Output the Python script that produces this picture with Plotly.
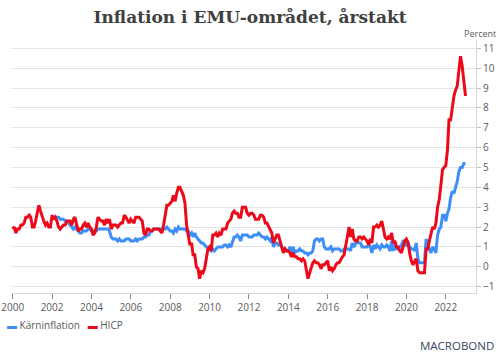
import pandas as pd
import plotly.graph_objects as go

# Euro area HICP, annual rate (%), monthly Jan 2000 - Jan 2023
hicp = [
    1.9, 2.0, 1.7, 1.9, 1.9, 2.1, 2.1, 2.2, 2.5, 2.5, 2.6, 2.5,   # 2000
    2.0, 2.0, 2.3, 2.8, 3.1, 2.8, 2.5, 2.3, 2.1, 2.2, 2.0, 2.0,   # 2001
    2.6, 2.4, 2.5, 2.3, 2.0, 1.9, 2.0, 2.1, 2.1, 2.3, 2.3, 2.3,   # 2002
    2.1, 2.4, 2.5, 2.1, 1.8, 1.9, 1.9, 2.1, 2.2, 2.0, 2.2, 2.0,   # 2003
    1.9, 1.6, 1.7, 2.0, 2.5, 2.4, 2.3, 2.3, 2.1, 2.4, 2.2, 2.4,   # 2004
    1.9, 2.1, 2.1, 2.1, 2.0, 2.1, 2.2, 2.2, 2.6, 2.5, 2.3, 2.2,   # 2005
    2.4, 2.3, 2.2, 2.5, 2.5, 2.5, 2.4, 2.3, 1.7, 1.6, 1.9, 1.9,   # 2006
    1.8, 1.8, 1.9, 1.9, 1.9, 1.9, 1.8, 1.7, 2.1, 2.6, 3.1, 3.1,   # 2007
    3.2, 3.3, 3.6, 3.3, 3.7, 4.0, 4.0, 3.8, 3.6, 3.2, 2.1, 1.6,   # 2008
    1.1, 1.2, 0.6, 0.6, 0.0, -0.1, -0.6, -0.2, -0.3, -0.1, 0.5, 0.9,  # 2009
    1.0, 0.8, 1.6, 1.6, 1.7, 1.5, 1.7, 1.6, 1.9, 1.9, 1.9, 2.2,   # 2010
    2.3, 2.4, 2.7, 2.8, 2.7, 2.7, 2.5, 2.5, 3.0, 3.0, 3.0, 2.7,   # 2011
    2.6, 2.7, 2.7, 2.6, 2.4, 2.4, 2.4, 2.6, 2.6, 2.5, 2.2, 2.2,   # 2012
    2.0, 1.8, 1.7, 1.2, 1.4, 1.6, 1.6, 1.3, 1.1, 0.7, 0.9, 0.8,   # 2013
    0.8, 0.7, 0.5, 0.7, 0.5, 0.5, 0.4, 0.4, 0.3, 0.4, 0.3, -0.2,  # 2014
    -0.6, -0.3, -0.1, 0.2, 0.3, 0.2, 0.2, 0.1, -0.1, 0.1, 0.1, 0.2,  # 2015
    0.3, -0.2, 0.0, -0.2, -0.1, 0.1, 0.2, 0.2, 0.4, 0.5, 0.6, 1.1,  # 2016
    1.7, 2.0, 1.5, 1.9, 1.4, 1.3, 1.3, 1.5, 1.5, 1.4, 1.5, 1.4,   # 2017
    1.3, 1.1, 1.4, 1.2, 2.0, 2.0, 2.1, 2.0, 2.1, 2.3, 1.9, 1.5,   # 2018
    1.4, 1.5, 1.4, 1.7, 1.2, 1.3, 1.0, 1.0, 0.8, 0.7, 1.0, 1.3,   # 2019
    1.4, 1.2, 0.7, 0.3, 0.1, 0.3, 0.4, -0.2, -0.3, -0.3, -0.3, -0.3,  # 2020
    0.9, 0.9, 1.3, 1.6, 2.0, 1.9, 2.2, 3.0, 3.4, 4.1, 4.9, 5.0,   # 2021
    5.1, 5.9, 7.4, 7.4, 8.1, 8.6, 8.9, 9.1, 9.9, 10.6, 10.1, 9.2,  # 2022
    8.6,                                                          # 2023
]

# Core inflation (Kärninflation), annual rate (%), monthly Jan 2002 - Jan 2023
core = [
    2.5, 2.5, 2.5, 2.5, 2.5, 2.4, 2.4, 2.4, 2.3, 2.3, 2.2, 2.1,   # 2002
    2.0, 1.9, 2.0, 1.9, 1.8, 1.7, 1.7, 1.8, 1.8, 1.8, 1.9, 1.9,   # 2003
    1.8, 1.8, 1.8, 1.8, 1.9, 1.9, 1.9, 1.9, 1.9, 1.9, 1.9, 1.8,   # 2004
    1.5, 1.4, 1.4, 1.4, 1.3, 1.4, 1.3, 1.3, 1.3, 1.4, 1.4, 1.4,   # 2005
    1.3, 1.3, 1.3, 1.4, 1.3, 1.4, 1.4, 1.4, 1.5, 1.5, 1.6, 1.6,   # 2006
    1.8, 1.8, 1.9, 1.9, 1.9, 1.9, 1.9, 1.9, 1.9, 1.9, 2.0, 1.9,   # 2007
    1.8, 1.8, 1.7, 1.9, 1.8, 2.0, 1.9, 1.9, 1.9, 1.9, 1.8, 1.8,   # 2008
    1.6, 1.7, 1.5, 1.7, 1.5, 1.4, 1.3, 1.2, 1.2, 1.1, 1.0, 1.0,   # 2009
    0.9, 0.8, 0.9, 0.8, 0.9, 1.0, 1.0, 1.0, 1.0, 1.1, 1.1, 1.0,   # 2010
    1.1, 1.0, 1.3, 1.5, 1.5, 1.6, 1.5, 1.3, 1.6, 1.6, 1.6, 1.6,   # 2011
    1.5, 1.5, 1.5, 1.6, 1.6, 1.6, 1.7, 1.6, 1.5, 1.5, 1.4, 1.5,   # 2012
    1.4, 1.3, 1.5, 1.0, 1.2, 1.2, 1.1, 1.1, 1.0, 0.8, 0.9, 0.8,   # 2013
    0.8, 1.0, 0.7, 1.0, 0.7, 0.8, 0.8, 0.9, 0.8, 0.8, 0.7, 0.7,   # 2014
    0.6, 0.7, 0.7, 0.8, 1.3, 1.4, 1.4, 1.3, 1.4, 1.4, 1.0, 0.9,   # 2015
    0.9, 0.9, 1.0, 0.8, 0.9, 0.9, 0.9, 0.9, 0.8, 0.8, 0.9, 0.9,   # 2016
    0.9, 0.9, 0.8, 1.2, 1.0, 1.2, 1.3, 1.2, 1.2, 1.0, 1.0, 1.0,   # 2017
    1.0, 1.1, 1.0, 0.7, 1.1, 0.9, 1.1, 1.0, 0.9, 1.1, 1.0, 1.0,   # 2018
    1.1, 1.0, 0.8, 1.3, 0.8, 1.1, 0.9, 0.9, 1.0, 1.1, 1.3, 1.3,   # 2019
    1.1, 1.2, 1.0, 0.9, 0.9, 0.8, 1.2, 0.4, 0.2, 0.2, 0.2, 0.2,   # 2020
    1.4, 1.1, 0.9, 0.7, 1.0, 0.9, 0.7, 1.6, 1.9, 2.0, 2.6, 2.6,   # 2021
    2.3, 2.7, 2.9, 3.5, 3.8, 3.7, 4.0, 4.3, 4.8, 5.0, 5.0, 5.2,   # 2022
    5.2,                                                          # 2023
]

hicp_dates = pd.date_range("2000-01-01", periods=len(hicp), freq="MS")
core_dates = pd.date_range("2002-01-01", periods=len(core), freq="MS")

series_names = ["Kärninflation", "HICP"]
series_colors = ["#3d8ef8", "#ec0a1a"]
y_ticks = list(range(-1, 12))

title_text = "Inflation i EMU-området, årstakt"
unit_text = "Percent"

fig = go.Figure()
fig.add_trace(go.Scatter(x=core_dates, y=core, mode="lines", name=series_names[0],
                         line=dict(color=series_colors[0], width=3), showlegend=False))
fig.add_trace(go.Scatter(x=hicp_dates, y=hicp, mode="lines", name=series_names[1],
                         line=dict(color=series_colors[1], width=3), showlegend=False))

tick_font = dict(family="Open Sans, Verdana, sans-serif", size=10, color="#5a5a5a")

fig.update_layout(
    width=500, height=355,
    margin=dict(l=11, r=24, t=40, b=62, autoexpand=False),
    paper_bgcolor="white", plot_bgcolor="white",
    title=dict(text=f"<b>{title_text}</b>", x=0.5, xref="container", xanchor="center",
               y=1 - 17 / 355, yref="container", yanchor="middle",
               font=dict(family="DejaVu Serif, serif", size=17, color="#404040")),
    xaxis=dict(
        type="date", automargin=False,
        range=["1999-12-01", "2023-07-15"],
        tick0="2000-01-01", dtick="M24", tickformat="%Y",
        ticks="outside", ticklen=5, tickcolor="#8c8c8c", tickwidth=1,
        showline=True, linecolor="#d9d9d9", linewidth=1,
        showgrid=False, zeroline=False,
        tickfont=tick_font,
    ),
    yaxis=dict(
        side="right", automargin=False,
        range=[-1.32, 11.42],
        tickvals=y_ticks,
        ticks="outside", ticklen=4, tickcolor="#bfbfbf", tickwidth=1,
        showline=True, linecolor="#d9d9d9", linewidth=1,
        showgrid=True, gridcolor="#e4e4e4", gridwidth=1,
        zeroline=False,
        tickfont=tick_font,
    ),
    showlegend=False,
)

annotations = [
    dict(text=unit_text, xref="paper", yref="paper", x=(498 - 11) / 465, y=(293 - 34) / 253,
         xanchor="right", yanchor="middle", showarrow=False,
         font=dict(family="Open Sans, Verdana, sans-serif", size=9, color="#5a5a5a")),
    dict(text=(f'<span style="color:{series_colors[0]}">▬</span> {series_names[0]}   '
               f'<span style="color:{series_colors[1]}">▬</span> {series_names[1]}'),
         xref="paper", yref="paper", x=(5 - 11) / 465, y=(293 - 325) / 253,
         xanchor="left", yanchor="middle", showarrow=False,
         font=dict(family="Open Sans, Verdana, sans-serif", size=10, color="#5a5a5a")),
    dict(text="MACROBOND", xref="paper", yref="paper", x=(496 - 11) / 465, y=(293 - 345) / 253,
         xanchor="right", yanchor="middle", showarrow=False,
         font=dict(family="Open Sans, sans-serif", size=11.5, color="#34495e")),
]
fig.update_layout(annotations=annotations)

fig.write_html("out.html", config={"displayModeBar": False},
               post_script="document.body.style.margin='0';")
